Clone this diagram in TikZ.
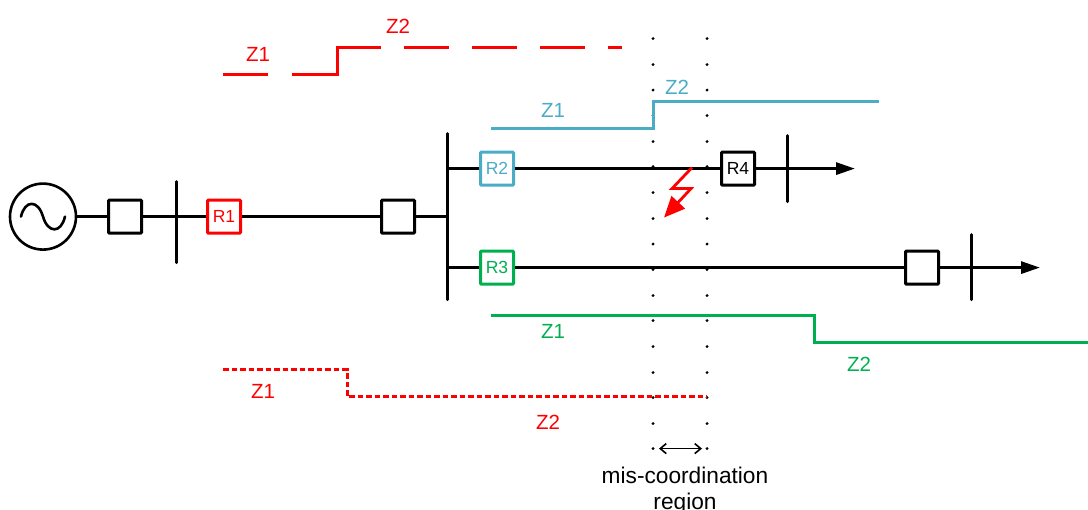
\documentclass[tikz,border=0pt]{standalone}
\usepackage{fontspec}
\setmainfont{Liberation Sans}
\usetikzlibrary{arrows.meta}
\definecolor{zblue}{RGB}{75,172,198}
\definecolor{zgreen}{RGB}{0,176,80}
\tikzset{x=1pt,y=-1pt,
  wire/.style={line width=3pt,draw=black},
  bus/.style={line width=3pt,draw=black,line cap=round},
  relay/.style={draw,line width=3pt,fill=white,minimum width=33pt,minimum height=33pt,inner sep=0pt,rounded corners=0.8pt,font=\fontsize{17.5}{17.5}\selectfont},
  lab/.style={font=\fontsize{20.5}{20.5}\selectfont,inner sep=0pt},
  tip/.style={-{Triangle[length=19pt,width=12pt]}},
  zone/.style={line width=3pt},
}
\begin{document}
\begin{tikzpicture}
\useasboundingbox (0,0) rectangle (1088,510);
\begin{scope}[yshift=-0.6pt]
% mis-coordination dots
\foreach \y in {38,64,89.5,115,141,166,192,218,243.5,269,295,320,346,372,397,423,448}{
  \fill (653,\y) circle (1.6pt);
  \fill (707,\y) circle (1.6pt);
}
% coordinates
\coordinate (busA1) at (176,181);
\coordinate (busA2) at (176,262);
\coordinate (busB1) at (447,133);
\coordinate (busB2) at (447,299);
\coordinate (busC1) at (787,135);
\coordinate (busC2) at (787,201);
\coordinate (busD1) at (971,234);
\coordinate (busD2) at (971,299);
\coordinate (endC) at (855,168);
\coordinate (endD) at (1040,267);
% main nodes
\node[draw,circle,line width=2.6pt,minimum size=66pt,inner sep=0pt] (gen) at (43,216) {};
\node[relay] (b1) at (125,216) {};
\node[relay,draw=red,text=red] (r1) at (224,216) {R1};
\node[relay] (b2) at (398,216) {};
\node[relay,draw=zblue,text=zblue] (r2) at (497,168) {R2};
\node[relay,draw=zgreen,text=zgreen] (r3) at (497,267) {R3};
\node[relay] (r4) at (738,168) {R4};
\node[relay] (b3) at (922,267) {};
% generator sine
\draw[line width=2.6pt,line cap=round] (21,216) .. controls (25,199) and (38,199) .. (43,216) .. controls (48,233) and (61,233) .. (65,216);
% connectors
\draw[wire] (gen) -- (b1);
\draw[wire] (b1) -- (r1);
\draw[wire] (r1) -- (b2);
\draw[wire] (b2) -- (447,216);
\draw[wire] (447,168) -- (r2);
\draw[wire] (r2) -- (r4);
\draw[wire] (447,267) -- (r3);
\draw[wire] (r3) -- (b3);
\draw[wire,tip] (r4) -- (endC);
\draw[wire,tip] (b3) -- (endD);
% buses
\draw[bus] (busA1) -- (busA2);
\draw[bus] (busB1) -- (busB2);
\draw[bus] (busC1) -- (busC2);
\draw[bus] (busD1) -- (busD2);
% zones
\draw[zone,draw=red,dash pattern=on 45pt off 24pt on 116pt off 23pt on 45pt off 23pt on 45pt off 23pt on 45pt off 23pt on 14pt off 100pt] (223,74) -- (337,74) -- (337,47) -- (622,47);
\node[lab,text=red] (t1) at (258,54) {Z1};
\node[lab,text=red] (t2) at (398,26) {Z2};
\draw[zone,draw=zblue] (491,128) -- (653,128) -- (653,101) -- (879,101);
\node[lab,text=zblue] (t3) at (553,110) {Z1};
\node[lab,text=zblue] (t4) at (677,87) {Z2};
\draw[zone,draw=zgreen] (491,315) -- (814,315) -- (814,342) -- (1088,342);
\node[lab,text=zgreen] (t5) at (553,331) {Z1};
\node[lab,text=zgreen] (t6) at (859,364) {Z2};
\draw[zone,draw=red,dash pattern=on 5.5pt off 3pt] (223,369) -- (347,369) -- (347,396) -- (707,396);
\node[lab,text=red] (t7) at (263,391) {Z1};
\node[lab,text=red] (t8) at (548,422) {Z2};
% fault
\draw[red,line width=2.8pt,-{Triangle[length=21pt,width=18pt]}] (692,167) -- (672,188) -- (691,188) -- (664,217);
% region
\draw[line width=1.6pt,{Straight Barb[length=6pt,width=10pt]}-{Straight Barb[length=6pt,width=10pt]}] (659,448) -- (702,448);
\node[lab,align=center,anchor=north,font=\fontsize{22.7}{26}\selectfont] (mis) at (685,466) {mis-coordination\\region};
\end{scope}
\end{tikzpicture}
\end{document}
